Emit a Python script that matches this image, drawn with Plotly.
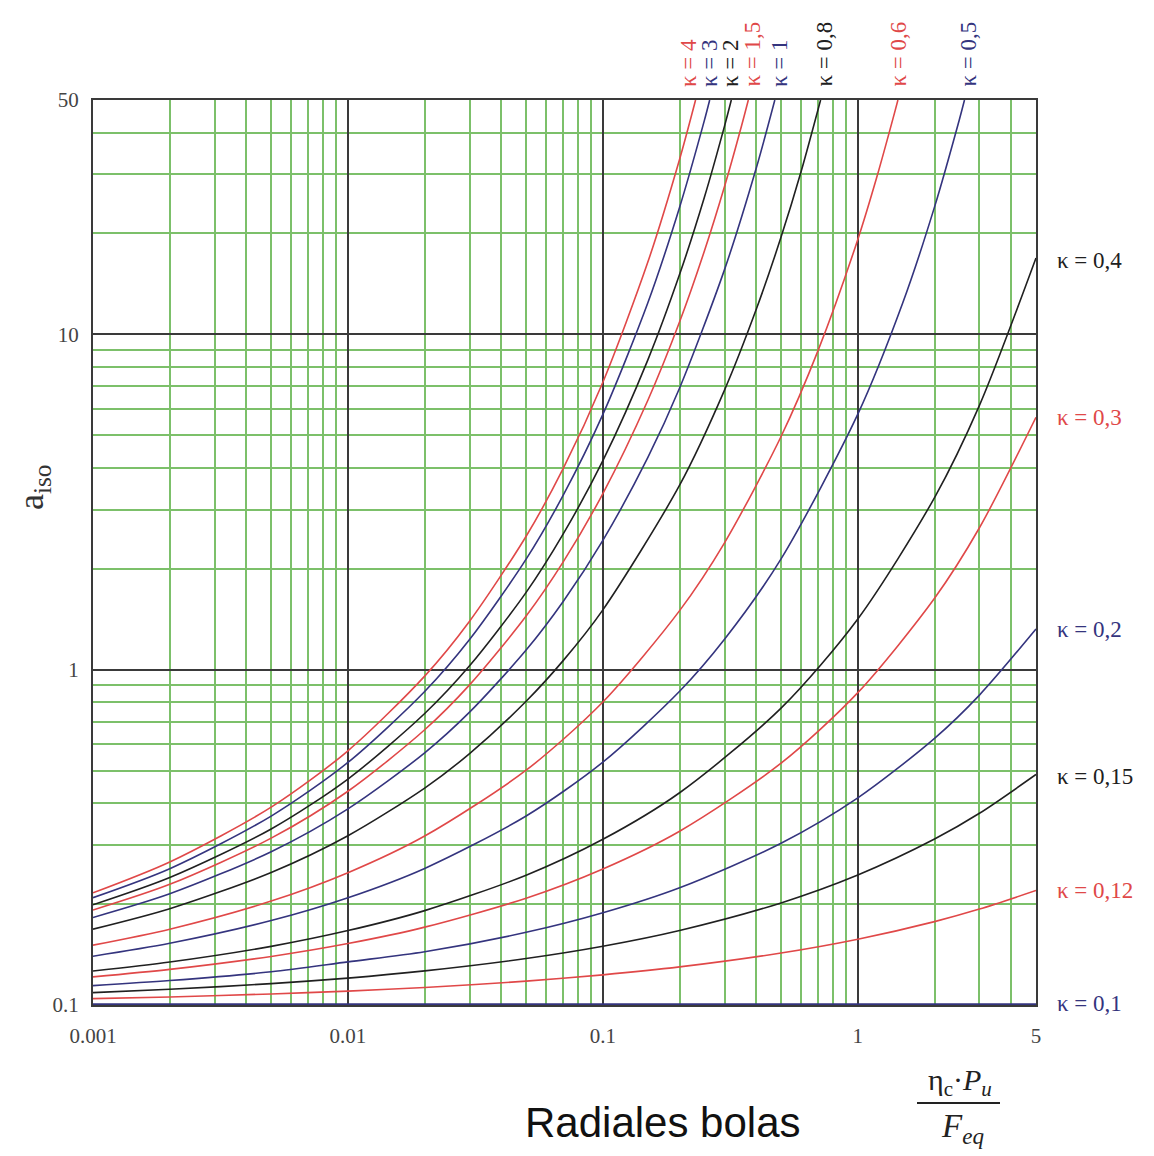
import math
import plotly.graph_objects as go

# ---------------- data ----------------
x_flat = [0.001, 0.002, 0.005, 0.01, 0.02, 0.05, 0.1, 0.2, 0.5, 1, 2, 3, 5]

k4_x = [0.001, 0.002, 0.005, 0.01, 0.02, 0.03, 0.05, 0.07, 0.1, 0.15, 0.2, 0.231]
k4_y = [0.216, 0.267, 0.389, 0.573, 0.957, 1.395, 2.50, 3.99, 7.20, 16.4, 33.3, 50]

k3_x = [0.001, 0.002, 0.005, 0.01, 0.02, 0.03, 0.05, 0.07, 0.1, 0.15, 0.2, 0.25, 0.2624]
k3_y = [0.209, 0.255, 0.366, 0.529, 0.861, 1.230, 2.136, 3.32, 5.77, 12.4, 23.95, 43.4, 50]

k2_x = [0.001, 0.002, 0.005, 0.01, 0.02, 0.03, 0.05, 0.07, 0.1, 0.15, 0.2, 0.25, 0.3, 0.319]
k2_y = [0.199, 0.240, 0.335, 0.472, 0.740, 1.027, 1.70, 2.545, 4.20, 8.38, 15.1, 25.6, 41.8, 50]

k15_x = [0.001, 0.002, 0.005, 0.01, 0.02, 0.03, 0.05, 0.07, 0.1, 0.15, 0.2, 0.25, 0.3, 0.35, 0.372]
k15_y = [0.192, 0.229, 0.3145, 0.434, 0.662, 0.901, 1.445, 2.10, 3.35, 6.35, 10.9, 17.7, 27.6, 41.9, 50]

k1_x = [0.001, 0.002, 0.005, 0.01, 0.02, 0.03, 0.05, 0.07, 0.1, 0.15, 0.2, 0.3, 0.4, 0.4726]
k1_y = [0.1824, 0.2146, 0.2865, 0.3846, 0.565, 0.747, 1.144, 1.60, 2.43, 4.29, 6.92, 15.6, 31.4, 50]

k08_x = [0.001, 0.002, 0.005, 0.01, 0.02, 0.03, 0.05, 0.07, 0.1, 0.2, 0.3, 0.4, 0.5, 0.6, 0.7146]
k08_y = [0.1684, 0.1938, 0.2484, 0.3197, 0.4435, 0.562, 0.805, 1.066, 1.508, 3.55, 6.82, 11.9, 19.5, 30.7, 50]

k06_x = [0.001, 0.002, 0.005, 0.01, 0.02, 0.05, 0.1, 0.2, 0.3, 0.5, 0.7, 1, 1.2, 1.4, 1.4366]
k06_y = [0.1508, 0.1683, 0.2041, 0.2480, 0.3190, 0.5014, 0.801, 1.50, 2.39, 4.96, 8.99, 19.2, 30.3, 46.4, 50]

k05_x = [0.001, 0.002, 0.005, 0.01, 0.02, 0.05, 0.1, 0.2, 0.3, 0.5, 1, 1.5, 2, 2.5, 2.621]
k05_y = [0.1398, 0.1528, 0.1786, 0.2089, 0.2555, 0.3661, 0.530, 0.862, 1.232, 2.14, 5.78, 12.4, 24.0, 43.6, 50]

k04_y = [0.1263, 0.1343, 0.1496, 0.1667, 0.1912, 0.2438, 0.3120, 0.4296, 0.768, 1.417, 3.26, 6.14, 16.9]
k03_y = [0.1213, 0.1277, 0.1396, 0.1525, 0.1707, 0.2082, 0.2545, 0.3298, 0.526, 0.854, 1.633, 2.65, 5.66]
k02_y = [0.1142, 0.1183, 0.1256, 0.1345, 0.1441, 0.1647, 0.1884, 0.2237, 0.3036, 0.4147, 0.624, 0.840, 1.322]
k015_y = [0.1089, 0.1114, 0.1158, 0.1203, 0.1264, 0.1376, 0.1497, 0.1668, 0.2016, 0.2441, 0.3125, 0.3730, 0.4868]
k012_y = [0.1045, 0.1057, 0.1079, 0.1100, 0.1128, 0.1178, 0.1230, 0.1299, 0.1429, 0.1571, 0.1773, 0.1932, 0.2195]
k01_y = [0.1, 0.1, 0.1, 0.1, 0.1, 0.1, 0.1, 0.1, 0.1, 0.1, 0.1, 0.1, 0.1]

x_major = [0.001, 0.01, 0.1, 1, 5]
x_major_text = ["0.001", "0.01", "0.1", "1", "5"]
x_minor = [m * d for d in (0.001, 0.01, 0.1) for m in range(2, 10)] + [2, 3, 4]
y_major = [0.1, 1, 10, 50]
y_major_text = ["0.1", "1", "10", "50"]
y_minor = [m * d for d in (0.1, 1) for m in range(2, 10)] + [20, 30, 40]

top_labels = ["κ = 4", "κ = 3", "κ = 2", "κ = 1,5", "κ = 1", "κ = 0,8", "κ = 0,6", "κ = 0,5"]
right_labels = ["κ = 0,4", "κ = 0,3", "κ = 0,2", "κ = 0,15", "κ = 0,12", "κ = 0,1"]

# ---------------- styles ----------------
RED = "#e04848"
BLUE = "#34347e"
BLACK = "#202020"
GREEN = "#7cc06a"
DARK = "#3a3a3a"

curves = [
    (k4_x, k4_y, RED), (k3_x, k3_y, BLUE), (k2_x, k2_y, BLACK),
    (k15_x, k15_y, RED), (k1_x, k1_y, BLUE), (k08_x, k08_y, BLACK),
    (k06_x, k06_y, RED), (k05_x, k05_y, BLUE),
    (x_flat, k04_y, BLACK), (x_flat, k03_y, RED), (x_flat, k02_y, BLUE),
    (x_flat, k015_y, BLACK), (x_flat, k012_y, RED),
]

fig = go.Figure()
for xs, ys, col in curves:
    fig.add_trace(go.Scatter(x=xs, y=ys, mode="lines",
                             line=dict(color=col, width=1.6, shape="spline", smoothing=0.8),
                             hoverinfo="skip", showlegend=False))
fig.add_trace(go.Scatter(x=x_flat, y=k01_y, mode="lines",
                         line=dict(color=BLUE, width=3.5), hoverinfo="skip", showlegend=False))

W, H = 1154, 1156
L, R, T, B = 93, 1036, 100, 1005
pw, ph = R - L, B - T

def px(xp):
    return (xp - L) / pw

def py(yp):
    return (B - yp) / ph

serif = "Liberation Serif, Times New Roman, serif"
tick_font = dict(family=serif, size=21, color="#444")

fig.update_layout(
    width=W, height=H,
    margin=dict(l=L, r=W - R, t=T, b=H - B, pad=0),
    paper_bgcolor="white", plot_bgcolor="white",
    xaxis=dict(type="log", range=[math.log10(0.001), math.log10(5)],
               tickmode="array", tickvals=x_major, ticktext=x_major_text,
               showgrid=True, gridcolor=DARK, gridwidth=1.8,
               minor=dict(tickmode="array", tickvals=x_minor, showgrid=True,
                          gridcolor=GREEN, gridwidth=2, ticks=""),
               showline=True, mirror=True, linecolor=DARK, linewidth=2,
               ticks="outside", ticklen=11, tickcolor="rgba(0,0,0,0)",
               tickfont=tick_font, zeroline=False),
    yaxis=dict(type="log", range=[math.log10(0.1), math.log10(50)],
               tickmode="array", tickvals=y_major, ticktext=y_major_text,
               showgrid=True, gridcolor=DARK, gridwidth=1.8,
               minor=dict(tickmode="array", tickvals=y_minor, showgrid=True,
                          gridcolor=GREEN, gridwidth=2, ticks=""),
               showline=True, mirror=True, linecolor=DARK, linewidth=2,
               ticks="outside", ticklen=8, tickcolor="rgba(0,0,0,0)",
               tickfont=tick_font, zeroline=False),
)

top_cols = [RED, BLUE, BLACK, RED, BLUE, BLACK, RED, BLUE]
top_px = [688, 709, 730, 752, 779, 824, 898, 968]
ann = []
for t, c, xp in zip(top_labels, top_cols, top_px):
    ann.append(dict(text=t, xref="paper", yref="paper", x=px(xp), y=1.0,
                    xanchor="center", yanchor="bottom", yshift=11, textangle=-90,
                    showarrow=False, font=dict(family=serif, size=23, color=c)))

right_cols = [BLACK, RED, BLUE, BLACK, RED, BLUE]
right_py = [260, 418, 629, 776, 890, 1003]
for t, c, yp in zip(right_labels, right_cols, right_py):
    ann.append(dict(text=t, xref="paper", yref="paper", x=px(1055), y=py(yp),
                    xanchor="left", yanchor="middle", showarrow=False,
                    font=dict(family=serif, size=23, color=c)))

# axis titles
ann.append(dict(text="a<sub>iso</sub>", xref="paper", yref="paper", x=px(33), y=py(488),
                xanchor="center", yanchor="middle", textangle=-90, showarrow=False,
                font=dict(family=serif, size=36, color="#333")))
ann.append(dict(text="η<sub>c</sub>·<i>P</i><sub><i>u</i></sub>", xref="paper", yref="paper",
                x=px(960), y=py(1082), xanchor="center", yanchor="middle", showarrow=False,
                font=dict(family=serif, size=30, color="#222")))
ann.append(dict(text="<i>F</i><sub><i>eq</i></sub>", xref="paper", yref="paper",
                x=px(962), y=py(1128), xanchor="center", yanchor="middle", showarrow=False,
                font=dict(family=serif, size=33, color="#222")))
ann.append(dict(text="Radiales bolas", xref="paper", yref="paper",
                x=px(663), y=py(1122), xanchor="center", yanchor="middle", showarrow=False,
                font=dict(family="Liberation Sans, Arial, sans-serif", size=42, color="#111")))

fig.update_layout(annotations=ann)
fig.add_shape(type="line", xref="paper", yref="paper", x0=px(917), x1=px(1000),
              y0=py(1103), y1=py(1103), line=dict(color="#222", width=2))

fig.write_html("out.html")
